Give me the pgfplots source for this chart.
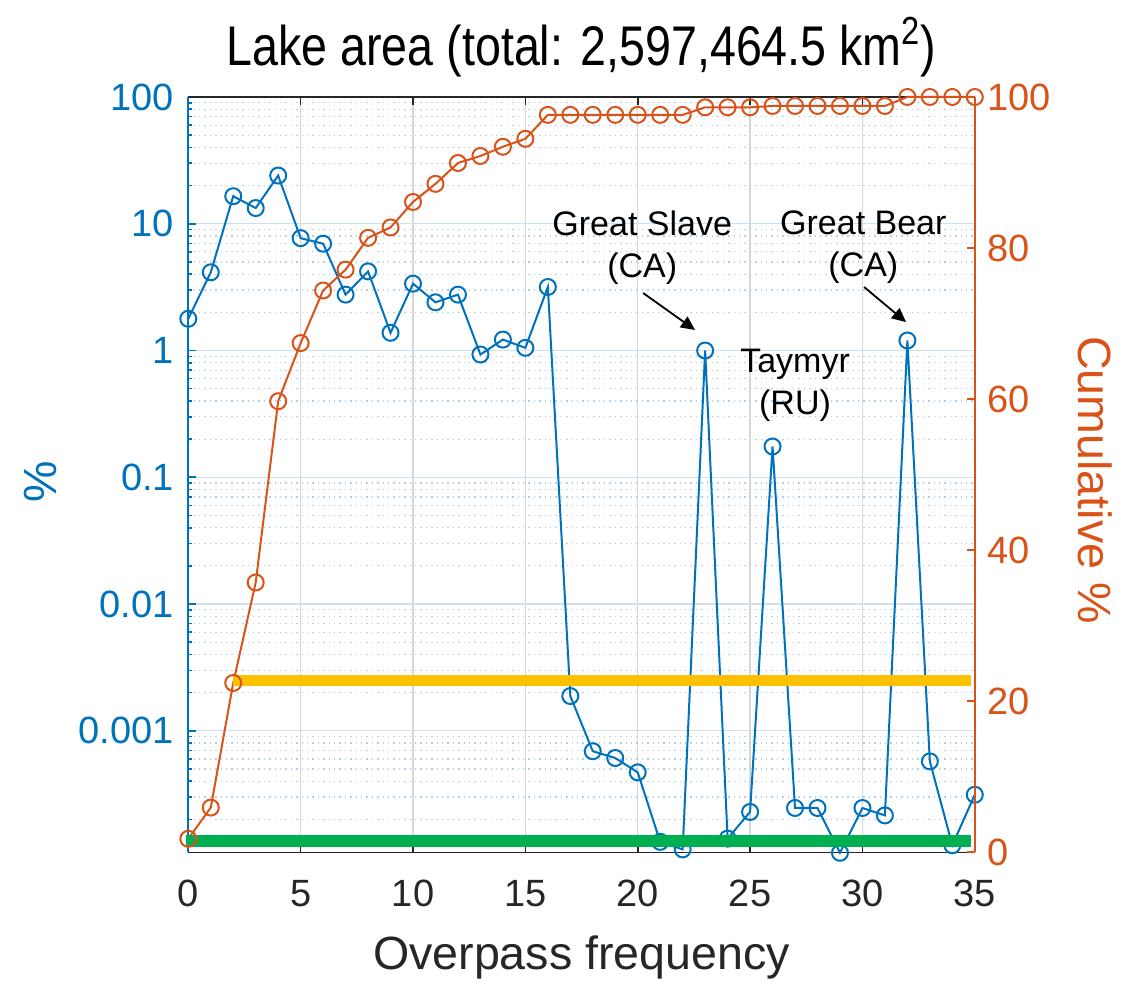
\documentclass[border=0pt]{standalone}
\usepackage{fontspec}
\setmainfont{Liberation Sans}
\usepackage{pgfplots}
\usepackage{pgfplotstable}
\pgfplotsset{compat=1.18}
\usetikzlibrary{arrows.meta}

\definecolor{mblue}{RGB}{0,114,189}
\definecolor{morange}{RGB}{217,83,25}
\definecolor{mgray}{RGB}{38,38,38}
\definecolor{gridx}{RGB}{215,215,215}
\definecolor{gridy}{RGB}{205,225,240}
\definecolor{gridminor}{RGB}{180,208,230}
\definecolor{barY}{RGB}{255,192,0}
\definecolor{barG}{RGB}{0,176,80}

% share of lake area per overpass frequency, and its running total
\pgfplotstableread{
x  pct       cum
0  1.78      1.78
1  4.14      5.92
2  16.5      22.42
3  13.3      35.72
4  24.0      59.72
5  7.7       67.42
6  6.96      74.38
7  2.76      77.14
8  4.21      81.35
9  1.38      82.73
10 3.37      86.10
11 2.40      88.50
12 2.76      91.26
13 0.93      92.19
14 1.22      93.41
15 1.05      94.46
16 3.17      97.63
17 0.00188   97.632
18 0.00069   97.633
19 0.00061   97.633
20 0.00047   97.634
21 0.000133  97.634
22 0.000116  97.634
23 1.0       98.634
24 0.000141  98.634
25 0.000229  98.634
26 0.175     98.809
27 0.000246  98.810
28 0.000246  98.810
29 0.000109  98.810
30 0.000246  98.810
31 0.000215  98.810
32 1.2       100.0
33 0.000574  100.0
34 0.000125  100.0
35 0.000313  100.0
}\lakedata

\newcommand\tickfont{\fontsize{19}{22}\selectfont}
\newcommand\labfont{\fontsize{23.3}{27}\selectfont}
\newcommand\notefont{\fontsize{17}{21}\selectfont}

\begin{document}
\begin{tikzpicture}
\useasboundingbox (-94.15pt,-65.85pt) rectangle (471.35pt,426.15pt);

% left axis: share in percent, logarithmic
\begin{axis}[
  at={(0pt,0pt)}, anchor=south west,
  scale only axis, width=393.25pt, height=377.65pt,
  xmin=0, xmax=35, ymode=log, ymin=1.1e-4, ymax=100,
  axis x line*=box, axis y line*=left,
  xtick={0,5,...,35},
  ytick={1e-3,1e-2,1e-1,1,10,100},
  yticklabels={0.001,0.01,0.1,1,10,100},
  minor ytick={2e-4,3e-4,4e-4,5e-4,6e-4,7e-4,8e-4,9e-4,
               2e-3,3e-3,4e-3,5e-3,6e-3,7e-3,8e-3,9e-3,
               0.02,0.03,0.04,0.05,0.06,0.07,0.08,0.09,
               0.2,0.3,0.4,0.5,0.6,0.7,0.8,0.9,
               2,3,4,5,6,7,8,9,20,30,40,50,60,70,80,90},
  tick align=inside,
  major tick length=4pt, minor tick length=2pt,
  xmajorgrids, ymajorgrids, yminorgrids,
  x grid style={gridx, line width=0.7pt},
  y grid style={gridy, line width=0.7pt},
  minor y grid style={gridminor, dotted, line width=0.6pt},
  x axis line style={mgray, line width=0.8pt},
  y axis line style={mblue, line width=0.8pt},
  xtick style={mgray, line width=0.8pt},
  ytick style={mblue, line width=0.8pt},
  minor tick style={mblue, line width=0.6pt},
  /pgf/number format/assume math mode=true,
  xticklabel style={font=\tickfont, text=mgray, yshift=-10.5pt},
  yticklabel style={font=\tickfont, text=mblue, xshift=-3.7pt},
  xlabel={Overpass frequency},
  every axis x label/.style={at={(axis description cs:0.5,-0.139)}, anchor=center, font=\labfont, text=mgray},
  ylabel={\%},
  every axis y label/.style={at={(axis description cs:-0.188,0.49)}, anchor=center, rotate=90, font=\labfont, text=mblue},
  title={Lake area (total: 2,597,464.5 km\textsuperscript{2})},
  every axis title/.style={at={(axis description cs:0.5,1.066)}, anchor=center, font=\fontsize{23.3}{27}\selectfont, yscale=1.2, text=black},
  clip=false,
]
\addplot[mblue, line width=1pt, mark=o, mark size=4pt, mark options={line width=1pt}]
  table[x=x, y=pct]{\lakedata};
\end{axis}

% right axis: cumulative percent, linear
\begin{axis}[
  at={(0pt,0pt)}, anchor=south west,
  scale only axis, width=393.25pt, height=377.65pt,
  xmin=0, xmax=35, ymin=0, ymax=100,
  axis x line=none, axis y line*=right,
  ytick={0,20,...,100},
  tick align=inside, major tick length=4pt,
  y axis line style={morange, line width=0.8pt},
  ytick style={morange, line width=0.8pt},
  /pgf/number format/assume math mode=true,
  yticklabel style={font=\tickfont, text=morange, xshift=2.7pt},
  ylabel={Cumulative \%},
  every axis y label/.style={at={(axis description cs:1.153,0.493)}, anchor=center, rotate=-90, font=\labfont, text=morange},
  clip=false,
]
\addplot[morange, line width=1pt, mark=o, mark size=4pt, mark options={line width=1pt}]
  table[x=x, y=cum]{\lakedata};

% threshold bands
\addplot[barY, line width=5.5pt, no marks] coordinates {(2,22.75) (34.82,22.75)};
\addplot[barG, line width=6pt, no marks] coordinates {(-0.1,1.5) (34.82,1.5)};

% lake annotations
\node[font=\notefont, align=center, text=black] at (axis cs:20.2,80.1) {Great Slave\\(CA)};
\node[font=\notefont, align=center, text=black] at (axis cs:30.04,80.1) {Great Bear\\(CA)};
\node[font=\notefont, align=center, text=black] at (axis cs:27.0,61.8) {Taymyr\\(RU)};
\draw[-{Triangle[length=7pt,width=6.5pt]}, line width=0.9pt, black] (axis cs:20.24,74.05) -- (axis cs:22.55,69.15);
\draw[-{Triangle[length=7pt,width=6.5pt]}, line width=0.9pt, black] (axis cs:30.07,74.85) -- (axis cs:31.94,70.2);
\end{axis}
\end{tikzpicture}
\end{document}
